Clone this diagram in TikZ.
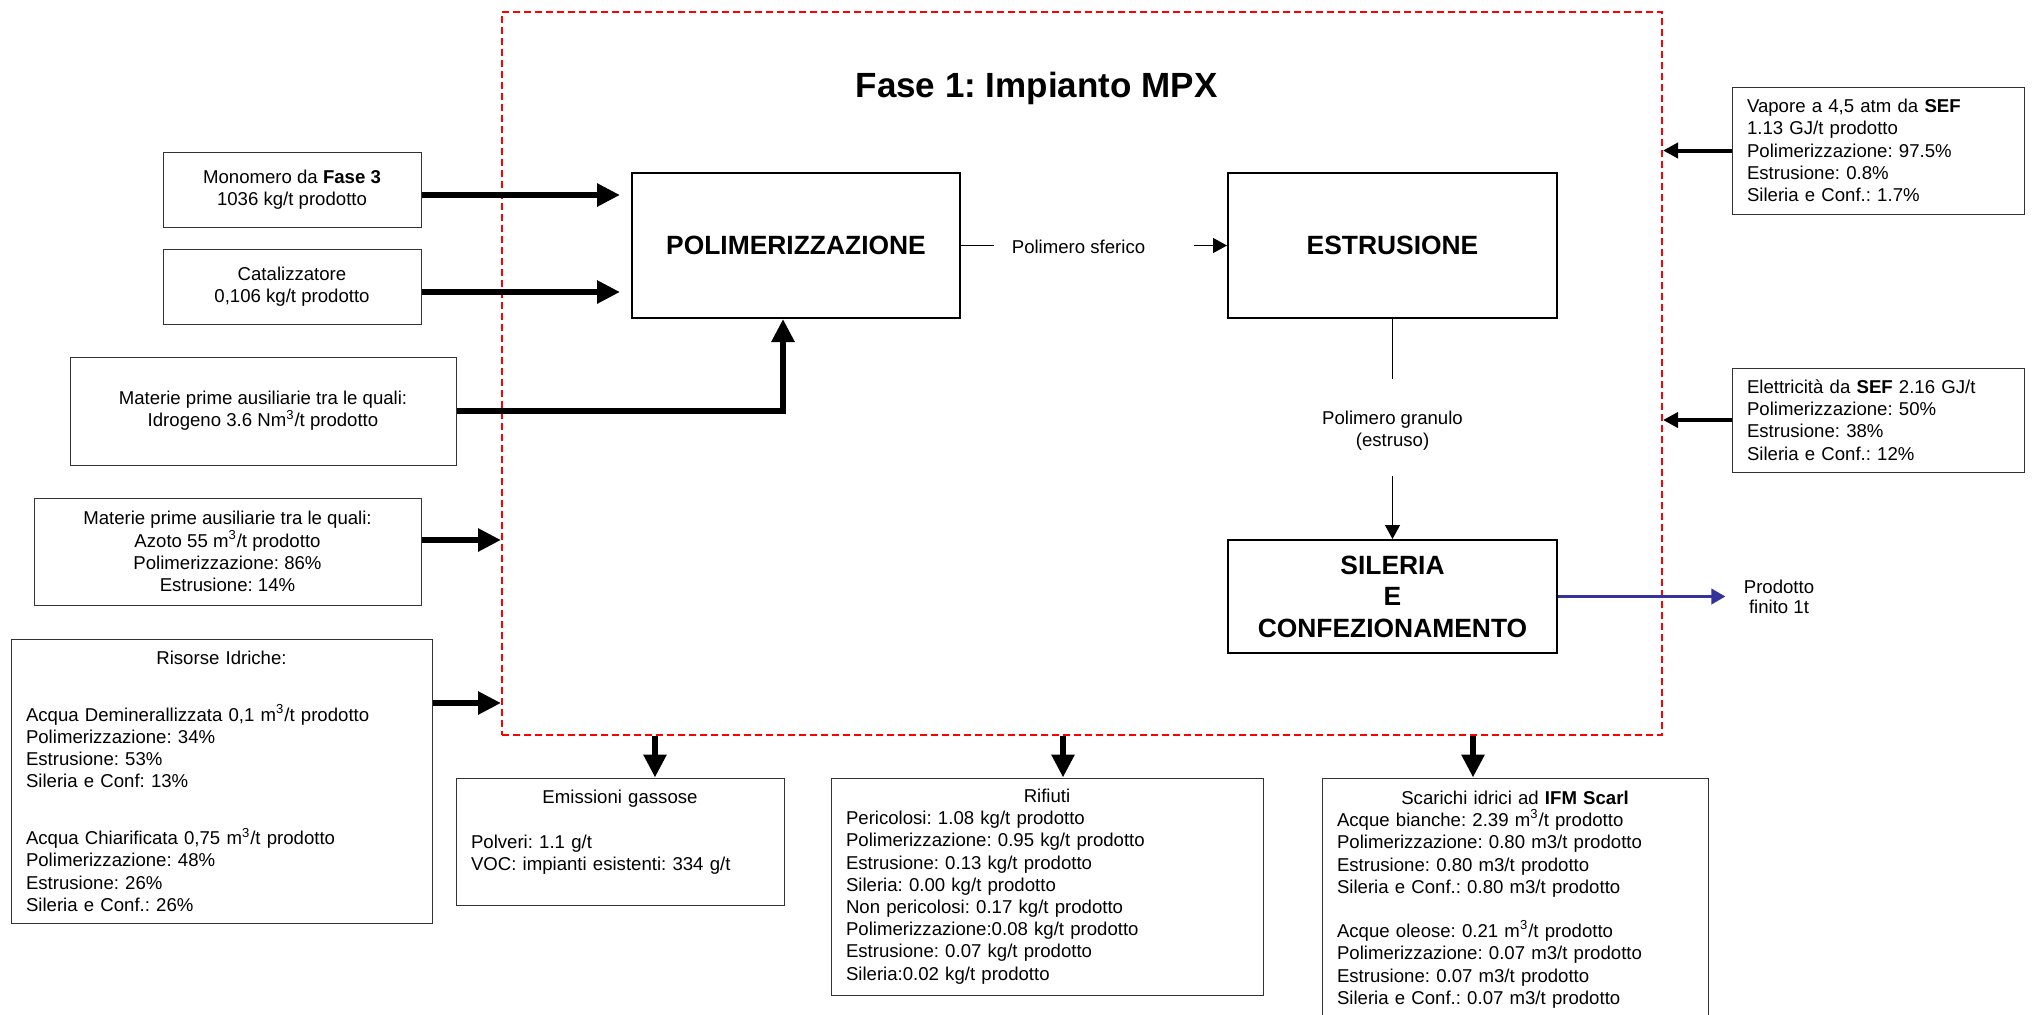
\documentclass[tikz,border=0pt]{standalone}
\usepackage{fontspec}
\setmainfont{Liberation Sans}
\usepackage{tikz}
\usetikzlibrary{arrows.meta,calc,positioning}
\frenchspacing
\definecolor{faseRed}{RGB}{255,0,0}
\definecolor{prodBlue}{RGB}{51,51,153}
\newcommand{\BoxTitle}[1]{\hspace*{\fill}#1\hspace*{\fill}\null}
\newcommand{\mcube}{m\textsuperscript{3}}
\tikzset{
  inbox/.style={draw=black!80, line width=0.5pt, inner sep=0pt, font=\fontsize{9.3}{11.1}\selectfont},
  inboxL/.style={inbox, align=left},   % left aligned data box
  inboxC/.style={inbox, align=center}, % centred data box
  proc/.style={draw, line width=1pt, inner sep=0pt, align=center, font=\fontsize{13.2}{15.8}\selectfont\bfseries},
  lbl/.style={inner sep=0pt, align=center, font=\fontsize{9.3}{11.1}\selectfont},
  faseBox/.style={draw=faseRed, line width=1pt, dash pattern=on 3.5pt off 2pt},
  bigArrow/.style={-{Triangle[length=11.5pt,width=11pt]}, line width=3.3pt},
  sideArrow/.style={-{Triangle[length=7.5pt,width=7.5pt]}, line width=2pt},
  thinArrow/.style={-{Triangle[length=7pt,width=7.5pt]}, line width=0.6pt},
  prodArrow/.style={-{Triangle[length=7pt,width=7.5pt]}, line width=1.7pt, color=prodBlue}
}

\begin{document}
\begin{tikzpicture}[x=0.5pt, y=-0.5pt]
  \useasboundingbox (0,0) rectangle (2033,1014);
  \clip (0,0) rectangle (2033,1014);
  % Fase 1 boundary and title
  \node[faseBox, minimum width=580pt, minimum height=361.5pt] (fase) at (1082,373.5) {};
  \node[font=\fontsize{17.5}{21}\selectfont\bfseries] (titolo) at (1036.5,88) {Fase 1: Impianto MPX};
  % process units
  \node[proc, minimum width=164pt, minimum height=72.5pt] (poli) at (796,245.5) {POLIMERIZZAZIONE};
  \node[proc, minimum width=164.5pt, minimum height=72.5pt] (estr) at (1392.5,245.5) {ESTRUSIONE};
  \node[proc, minimum width=164.5pt, minimum height=56.5pt] (sileria) at (1392.5,596.5) {SILERIA\\E\\CONFEZIONAMENTO};
  % inputs (left)
  \node[inboxC, minimum width=129pt, minimum height=37.5pt] (mono) at (292,189.5) {Monomero da \textbf{Fase 3}\\1036 kg/t prodotto};
  \node[inboxC, minimum width=129pt, minimum height=37.5pt] (cata) at (292,286.5) {Catalizzatore\\0,106 kg/t prodotto};
  \node[inboxC, minimum width=193pt, minimum height=54pt] (idro) at (263,411) {Materie prime ausiliarie tra le quali:\\Idrogeno 3.6 N\mcube/t prodotto};
  \node[inboxC, minimum width=193.5pt, minimum height=53.5pt] (azoto) at (227.5,551.5) {Materie prime ausiliarie tra le quali:\\Azoto 55 \mcube/t prodotto\\Polimerizzazione: 86\%\\Estrusione: 14\%};
  \node[inboxL, minimum width=210.5pt, minimum height=142pt, text width=195.5pt] (acqua) at (221.5,781) {\BoxTitle{Risorse Idriche:}\\[17.4pt]
    Acqua Deminerallizzata 0,1 \mcube/t prodotto\\Polimerizzazione: 34\%\\Estrusione: 53\%\\Sileria e Conf: 13\%\\[17.4pt]
    Acqua Chiarificata 0,75 \mcube/t prodotto\\Polimerizzazione: 48\%\\Estrusione: 26\%\\Sileria e Conf.: 26\%};
  % utilities (right)
  \node[inboxL, minimum width=146pt, minimum height=63.5pt, text width=131pt] (vapore) at (1878,150.5) {Vapore a 4,5 atm da \textbf{SEF}\\1.13 GJ/t prodotto\\Polimerizzazione: 97.5\%\\Estrusione: 0.8\%\\Sileria e Conf.: 1.7\%};
  \node[inboxL, minimum width=146pt, minimum height=52pt, text width=131pt] (elettr) at (1878,420) {Elettricità da \textbf{SEF} 2.16 GJ/t\\Polimerizzazione: 50\%\\Estrusione: 38\%\\Sileria e Conf.: 12\%};
  % outputs (bottom)
  \node[inboxL, minimum width=164pt, minimum height=63.5pt, text width=149pt] (emis) at (620,841.5) {\BoxTitle{Emissioni gassose}\\[11.1pt]Polveri: 1.1 g/t\\VOC: impianti esistenti: 334 g/t\\\mbox{}};
  \node[inboxL, minimum width=216pt, minimum height=108.5pt, text width=201pt] (rifiuti) at (1047,886.5) {\BoxTitle{Rifiuti}\\Pericolosi: 1.08 kg/t prodotto\\Polimerizzazione: 0.95 kg/t prodotto\\Estrusione: 0.13 kg/t prodotto\\Sileria: 0.00 kg/t prodotto\\Non pericolosi: 0.17 kg/t prodotto\\Polimerizzazione:0.08 kg/t prodotto\\Estrusione: 0.07 kg/t prodotto\\Sileria:0.02 kg/t prodotto};
  \node[inboxL, minimum width=193pt, minimum height=121.5pt, text width=178pt] (scarichi) at (1515,899.5) {\BoxTitle{Scarichi idrici ad \textbf{IFM Scarl}}\\Acque bianche: 2.39 \mcube/t prodotto\\Polimerizzazione: 0.80 m3/t prodotto\\Estrusione: 0.80 m3/t prodotto\\Sileria e Conf.: 0.80 m3/t prodotto\\[11.1pt]
    Acque oleose: 0.21 \mcube/t prodotto\\Polimerizzazione: 0.07 m3/t prodotto\\Estrusione: 0.07 m3/t prodotto\\Sileria e Conf.: 0.07 m3/t prodotto};
  % flow labels
  \node[lbl] (sferico) at (1078.5,247) {Polimero sferico};
  \node[lbl] (granulo) at (1392.5,431) {Polimero granulo\\(estruso)};
  \node[lbl, font=\fontsize{9.3}{10}\selectfont] (prodotto) at (1779,596.5) {Prodotto\\finito 1t};
  % feed arrows
  \coordinate (monoOut) at ([yshift=-2.75pt]mono.east);
  \coordinate (cataOut) at ([yshift=-2.75pt]cata.east);
  \draw[bigArrow, shorten >=5.5pt] (monoOut) -- (monoOut -| poli.west);
  \draw[bigArrow, shorten >=5.5pt] (cataOut) -- (cataOut -| poli.west);
  \draw[bigArrow] (idro.east) -| ([xshift=-6.5pt]poli.south);
  \coordinate (azotoOut) at ([yshift=5.75pt]azoto.east);
  \coordinate (acquaOut) at ([yshift=39pt]acqua.east);
  \draw[bigArrow] (azotoOut) -- (azotoOut -| fase.west);
  \draw[bigArrow] (acquaOut) -- (acquaOut -| fase.west);
  % utilities
  \draw[sideArrow] (vapore.west) -- (vapore.west -| fase.east);
  \draw[sideArrow] (elettr.west) -- (elettr.west -| fase.east);
  % internal flow
  \draw[line width=0.6pt] (poli.east) -- ([xshift=-8.5pt]sferico.west |- poli.east);
  \draw[thinArrow, shorten <=24pt] (sferico.east |- estr.west) -- (estr.west);
  \draw[line width=0.6pt, shorten >=16pt] (estr.south) -- (granulo.north);
  \draw[thinArrow, shorten <=12.5pt] (granulo.south) -- (sileria.north);
  \draw[prodArrow, shorten >=9pt] (sileria.east) -- (prodotto.west);
  % outputs
  \foreach \bx/\dx in {emis/17.5pt,rifiuti/8pt,scarichi/-21pt}{
    \coordinate (\bx-in) at ([xshift=\dx]\bx.north);
    \draw[bigArrow] (\bx-in |- fase.south) -- (\bx-in);
  }
\end{tikzpicture}
\end{document}
